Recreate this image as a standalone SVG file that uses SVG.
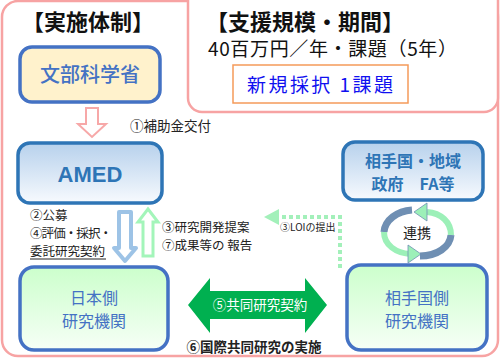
<svg xmlns="http://www.w3.org/2000/svg" width="501" height="358" viewBox="0 0 501 358">
<defs>
<linearGradient id="gBlue" x1="0" y1="0" x2="0" y2="1"><stop offset="0" stop-color="#B7D1EC"/><stop offset="1" stop-color="#F7FAFE"/></linearGradient>
<linearGradient id="gGreen" x1="0" y1="0" x2="0" y2="1"><stop offset="0" stop-color="#CCFFCC"/><stop offset="1" stop-color="#F6FFF6"/></linearGradient>
<style>
text{font-family:"Noto Sans CJK JP","Noto Sans",sans-serif}
.frame{fill:none;stroke:#F7A3A3;stroke-width:2.5}
.title{font-size:22px;font-weight:bold;fill:#111}
.lbl{font-size:13.5px;fill:#222}
.lbl2{font-size:12.5px;fill:#222}
.box1{stroke:#4472C4;stroke-width:3.5}
.box2{stroke:#2E75B6;stroke-width:3.5}
.t1{fill:#4472C4;text-anchor:middle;font-size:16px}
.t2{fill:#2E75B6;text-anchor:middle;font-weight:bold;font-size:16px}
</style>
</defs>
<rect width="501" height="358" fill="#fff"/>
<g id="frame">
<rect class="frame" x="2" y="1" width="496" height="355" rx="16"/>
<rect x="188" y="-14" width="310" height="126" rx="14" fill="#fff" stroke="#F7A3A3" stroke-width="2.5"/>
</g>
<g id="title-left"><text class="title" x="22" y="30">【実施体制】</text></g>
<g id="title-right">
<text class="title" x="206" y="30">【支援規模・期間】</text>
<text x="208" y="56" style="font-size:19px;fill:#111" textLength="249">40百万円／年・課題（5年）</text>
<rect x="233" y="65" width="175" height="38" fill="#fff" stroke="#F59A5A" stroke-width="1.5"/>
<text x="247" y="92" style="font-size:19px;fill:#1010F0" textLength="146">新規採択 1課題</text>
</g>
<g id="mext">
<rect class="box1" x="20" y="47" width="140" height="55" rx="12" fill="#FFF2CC"/>
<text class="t1" x="90" y="82" style="font-size:20px;font-weight:500">文部科学省</text>
</g>
<g id="amed">
<rect class="box2" x="18" y="143" width="144" height="60" rx="12" fill="url(#gBlue)"/>
<text class="t2" x="90" y="182" style="font-size:22px;font-family:'Liberation Sans',sans-serif">AMED</text>
</g>
<g id="partner-gov">
<rect class="box2" x="343" y="142" width="140" height="58" rx="12" fill="url(#gBlue)"/>
<text class="t2"><tspan x="413" y="167">相手国・地域</tspan><tspan x="413" y="190">政府　FA等</tspan></text>
</g>
<g id="jp-inst">
<rect class="box1" x="20" y="267" width="148" height="83" rx="14" fill="url(#gGreen)"/>
<text class="t1"><tspan x="94" y="304">日本側</tspan><tspan x="94" y="327">研究機関</tspan></text>
</g>
<g id="partner-inst">
<rect class="box1" x="347" y="265" width="140" height="85" rx="14" fill="url(#gGreen)"/>
<text class="t1"><tspan x="417" y="304">相手国側</tspan><tspan x="417" y="327">研究機関</tspan></text>
</g>
<g id="connectors">
<polygon points="86,108 98,108 98,124 106,124 92,137 78,124 86,124" fill="#fff" stroke="#F7A8A8" stroke-width="2"/>
<text class="lbl" x="130" y="131">①補助金交付</text>
<polygon points="119,212 131,212 131,248 136,248 125,261 114,248 119,248" fill="#fff" stroke="#9DC3E6" stroke-width="4" stroke-linejoin="round"/>
<polygon points="148,209 158,222 153,222 153,256 143,256 143,222 138,222" fill="#fff" stroke="#A3F5BA" stroke-width="3"/>
<text class="lbl2"><tspan x="30" y="220">②公募</tspan><tspan x="30" y="238" textLength="82">④評価・採択・</tspan><tspan x="30" y="256">委託研究契約</tspan></text>
<line x1="30" y1="259" x2="106" y2="259" stroke="#222" stroke-width="1"/>
<text class="lbl2"><tspan x="162" y="232">③研究開発提案</tspan><tspan x="162" y="250">⑦成果等の 報告</tspan></text>
<path d="M340,268 V217 H279" fill="none" stroke="#A3F0BA" stroke-width="4" stroke-dasharray="4 3"/>
<polygon points="264,217 279,209 279,225" fill="#A3F0BA"/>
<text x="280" y="231" style="font-size:10px;fill:#222">③LOIの提出</text>
<polygon points="188,305 210,278 210,291 305,291 305,278 327,305 305,333 305,319 210,319 210,333" fill="#00B050"/>
<text x="260" y="310" style="font-size:13.5px;fill:#fff;text-anchor:middle">⑤共同研究契約</text>
<text x="254" y="352" style="font-size:13.5px;font-weight:bold;fill:#222;text-anchor:middle">⑥国際共同研究の実施</text>
</g>
<g id="renkei">
<path d="M412,210 C397,211 385,220 384,232" fill="none" stroke="#6F8FB3" stroke-width="7"/>
<path d="M384,232 C384,245 396,253 410,254" fill="none" stroke="#9CF0B8" stroke-width="6"/>
<polygon points="421,254 408,245 408,263" fill="#9CF0B8" stroke="#6F8FB3" stroke-width="0.8"/>
<path d="M420,256 C437,256 450,247 451,235" fill="none" stroke="#6F8FB3" stroke-width="7"/>
<path d="M451,235 C451,222 441,213 427,212" fill="none" stroke="#9CF0B8" stroke-width="6"/>
<polygon points="414,212 427,203 427,221" fill="#9CF0B8" stroke="#6F8FB3" stroke-width="0.8"/>
<text x="417" y="238" style="font-size:14px;fill:#222;text-anchor:middle">連携</text>
</g>
</svg>
